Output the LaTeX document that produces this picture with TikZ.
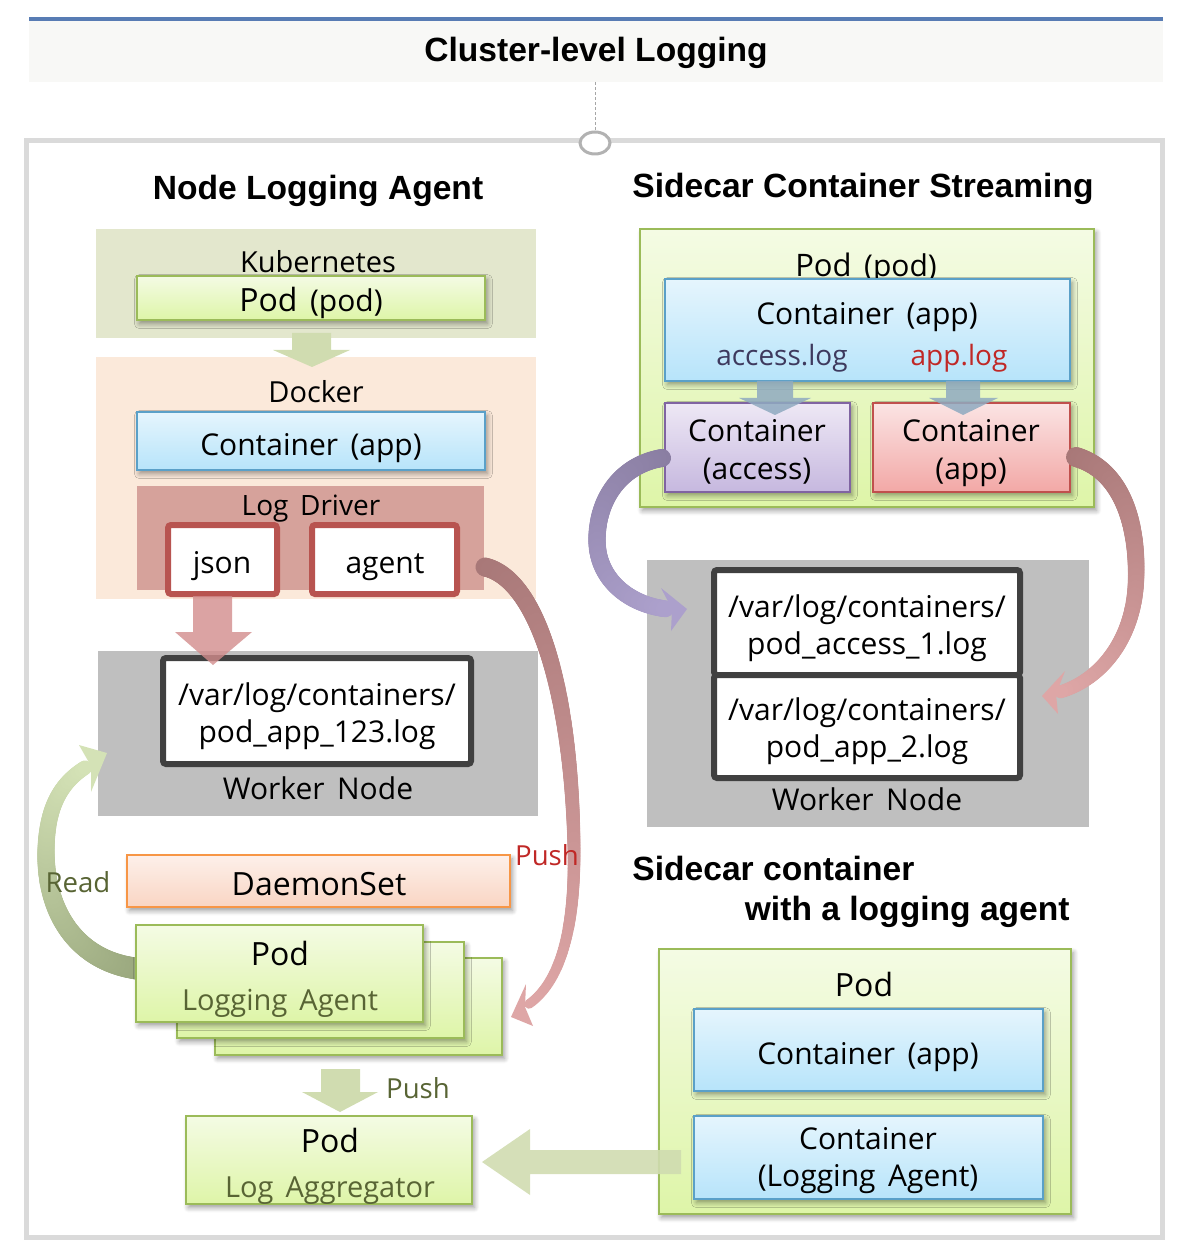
\documentclass[tikz,border=0pt]{standalone}
\usepackage{fontspec}
\setmainfont{Open Sans}[WordSpace=1.6]
\newfontfamily\hfont{Liberation Sans}
\usetikzlibrary{fit,shadows.blur,decorations.markings,shapes.geometric}
\definecolor{tblue}{RGB}{88,124,180}
\definecolor{tbg}{RGB}{248,248,246}
\definecolor{frm}{RGB}{218,218,218}
\definecolor{k8s}{RGB}{227,231,205}
\definecolor{dock}{RGB}{251,233,218}
\definecolor{ldrv}{RGB}{214,162,155}
\definecolor{ldbord}{RGB}{184,84,80}
\definecolor{wng}{RGB}{191,191,191}
\definecolor{fileb}{RGB}{64,64,64}
\definecolor{gTop}{RGB}{244,251,228}
\definecolor{gBot}{RGB}{222,245,168}
\definecolor{gBord}{RGB}{155,187,89}
\definecolor{bTop}{RGB}{229,245,253}
\definecolor{bBot}{RGB}{183,228,250}
\definecolor{bBord}{RGB}{90,160,200}
\definecolor{pTop}{RGB}{238,232,245}
\definecolor{pBot}{RGB}{198,184,223}
\definecolor{pBord}{RGB}{128,100,162}
\definecolor{rTop}{RGB}{251,228,228}
\definecolor{rBot}{RGB}{242,168,166}
\definecolor{rBord}{RGB}{192,80,77}
\definecolor{oTop}{RGB}{253,240,234}
\definecolor{oBot}{RGB}{249,213,195}
\definecolor{oBord}{RGB}{247,150,70}
\definecolor{arrG}{RGB}{208,220,176}
\definecolor{arrP}{RGB}{210,140,140}
\definecolor{arrS}{RGB}{143,170,192}
\definecolor{olive}{RGB}{88,100,52}
\definecolor{pushred}{RGB}{192,40,38}
\definecolor{acc}{RGB}{62,58,94}
\definecolor{rdA}{RGB}{168,120,120}
\definecolor{rdB}{RGB}{222,166,166}
\definecolor{gnA}{RGB}{152,166,124}
\definecolor{gnB}{RGB}{212,226,182}
\definecolor{puA}{RGB}{138,126,162}
\definecolor{puB}{RGB}{172,160,204}
\tikzset{
 bx/.style={rectangle, inner sep=0pt, outer sep=0pt},
 shad/.style={blur shadow={shadow xshift=1.2pt, shadow yshift=-1.8pt, shadow blur radius=2.5pt, shadow blur steps=6, shadow opacity=40}},
 gbox/.style={bx, draw=gBord, line width=1.3pt, top color=gTop, bottom color=gBot, shad},
 bbox/.style={bx, draw=bBord, line width=1.3pt, top color=bTop, bottom color=bBot, shad},
 pbox/.style={bx, draw=pBord, line width=1.3pt, top color=pTop, bottom color=pBot, shad},
 rbox/.style={bx, draw=rBord, line width=1.3pt, top color=rTop, bottom color=rBot, shad},
 obox/.style={bx, draw=oBord, line width=1.3pt, top color=oTop, bottom color=oBot, shad},
 band/.style={bx, fill=#1},
 drvbox/.style={bx, draw=ldbord, line width=3pt, fill=white, rounded corners=1.5pt},
 filebox/.style={bx, draw=fileb, line width=3pt, fill=white, rounded corners=1.5pt},
 txt/.style={anchor=base, inner sep=0pt, font=\fontsize{15}{18.5}\selectfont},
 stxt/.style={anchor=base, inner sep=0pt, font=\fontsize{13.8}{17}\selectfont},
 ttl/.style={anchor=base, inner sep=0pt, font=\hfont\bfseries\fontsize{16.8}{20}\selectfont},
 ribbon/.style n args={4}{decorate, decoration={markings,
   mark=between positions 0 and 1 step 0.7pt with {%
     \pgfmathsetmacro\rp{\pgfkeysvalueof{/pgf/decoration/mark info/distance from start}/\pgfdecoratedpathlength*100}%
     \pgfmathsetmacro\rr{#3+(#4-#3)*\rp/100}%
     \fill[#2!\rp!#1] (0pt,0pt) circle (\rr pt);}}},
}
\begin{document}
\begin{tikzpicture}[x=0.5pt,y=-0.5pt]
\useasboundingbox (0,0) rectangle (1184,1256);
% ---------- title
\node[band=tbg, fit={(29,20)(1163,82)}] (title) {};
\draw[tblue, line width=2pt] (29,19) -- (1163,19);
\node[ttl] (titletext) at (596,62) {Cluster-level Logging};
% ---------- frame
\node[bx, draw=frm, line width=2.5pt, fit={(26,141)(1162,1237)}] (frame) {};
\node[ellipse, draw=black!30, line width=1.5pt, fill=white, minimum width=15pt, minimum height=11pt, inner sep=0pt] (hub) at (595,143) {};
\draw[black!35, line width=0.4pt, dash pattern=on 1.5pt off 1pt] (title.south -| hub) -- (hub.north);
% ---------- section titles
\node[ttl] (tNLA) at (318,200) {Node Logging Agent};
\node[ttl] (tSCS) at (863,198) {Sidecar Container Streaming};
\node[ttl, anchor=base west] (tSCA1) at (632,880) {Sidecar container};
\node[ttl, anchor=base east] (tSCA2) at (1070,920) {with a logging agent};
% ---------- left: kubernetes
\node[band=k8s, fit={(96,229)(536,338)}] (k8sband) {};
\node[txt, font=\fontsize{14.5}{17}\selectfont] (k8stext) at (318,273) {Kubernetes};
\node[gbox, fit={(137,276)(485,320)}] (podL) {};
\node[txt] (podLtext) at (311,312) {{\fontsize{16}{19}\selectfont Pod} (pod)};
% ---------- docker
\node[band=dock, fit={(96,357)(536,599)}] (dockband) {};
\fill[arrG] (292,333) -- (331,333) -- (331,350) -- (350,350) -- (312,367) -- (273,350) -- (292,350) -- cycle;
\node[txt, font=\fontsize{14.5}{17}\selectfont] (docktext) at (316,402) {Docker};
\node[bbox, fit={(137,412)(485,470)}] (contL) {};
\node[txt] (contLtext) at (311,455) {Container (app)};
\node[band=ldrv, fit={(137,486)(484,590)}] (ldband) {};
\node[txt, font=\fontsize{14}{17}\selectfont] (ldtext) at (311,515) {Log Driver};
\node[drvbox, fit={(168,525)(277,594)}] (json) {};
\node[txt] at (222,573) {json};
\node[drvbox, fit={(312,525)(457,594)}] (agent) {};
\node[txt] at (385,573) {agent};
% ---------- worker node left
\node[band=wng, fit={(98,651)(538,816)}] (wnL) {};
\node[filebox, fit={(163,658)(471,764)}] (fileL) {};
\node[txt] (fileLtext) at (317,705) {\begin{tabular}[t]{@{}c@{}}/var/log/containers/\\pod\_app\_123.log\end{tabular}};
\node[txt] (wnLtext) at (318,799) {Worker Node};
\fill[arrP, opacity=0.8] (193,596) -- (232,596) -- (232,632) -- (252,632) -- (213,665) -- (175,632) -- (193,632) -- cycle;
% ---------- daemonset
\node[obox, fit={(127,855)(510,907)}] (ds) {};
\node[txt, font=\fontsize{16}{19}\selectfont] (dstext) at (319,895) {DaemonSet};
% read ribbon (behind pods)
\coordinate (readS) at (140,969);
\coordinate (readE) at (86,767);
\path[ribbon={gnA}{gnB}{5.5}{3.6}] (readS) .. controls (75,962) and (45,910) .. (46,850) .. controls (47,805) and (62,782) .. (readE);
\fill[gnB] (79,745) -- (107,753) -- (91,792) -- (91,766) -- cycle;
\node[stxt, text=olive] (readtext) at (78,892) {Read};
% stacked pods
\node[gbox, fit={(215,958)(502,1055)}] (pod3) {};
\node[gbox, fit={(177,942)(464,1038)}] (pod2) {};
\node[gbox, fit={(136,925)(423,1022)}] (pod1) {};
\node[txt, font=\fontsize{16}{19}\selectfont] (pod1text) at (280,965) {Pod};
\node[txt, font=\fontsize{14.5}{17}\selectfont, text=olive] (pod1sub) at (280,1010) {Logging Agent};
% push ribbon
\coordinate (pushS) at (485,567);
\coordinate (pushE) at (529,1004);
\path[ribbon={rdA}{rdB}{4.75}{2.4}] (pushS) .. controls (540,580) and (572,700) .. (574,850) .. controls (575,930) and (560,982) .. (pushE);
\fill[rdB] (526,984) -- (511,1017) -- (533,1026) -- (525,1007) -- cycle;
\node[stxt, text=pushred] (pushtext) at (547,865) {Push};
% push down to aggregator
\fill[arrG] (321,1069) -- (360,1069) -- (360,1092) -- (378,1092) -- (340,1112) -- (302,1092) -- (321,1092) -- cycle;
\node[stxt, text=olive] (push2text) at (418,1098) {Push};
\node[gbox, fit={(186,1116)(472,1204)}] (agg) {};
\node[txt, font=\fontsize{16}{19}\selectfont] (aggtext) at (330,1152) {Pod};
\node[txt, font=\fontsize{14.5}{17}\selectfont, text=olive] (aggsub) at (330,1197) {Log Aggregator};
% ---------- right: sidecar streaming pod
\node[gbox, fit={(640,229)(1094,507)}] (podR) {};
\node[txt] (podRtext) at (866,277) {{\fontsize{15.5}{19}\selectfont Pod} (pod)};
\node[bbox, fit={(665,279)(1070,381)}] (contR) {};
\node[txt] (contRtext) at (867,325) {Container (app)};
\node[txt, font=\fontsize{14}{17}\selectfont, text=acc] (acclog) at (782,366) {access.log};
\node[txt, font=\fontsize{14}{17}\selectfont, text=pushred] (applog) at (959,366) {app.log};
\node[pbox, fit={(665,403)(850,492)}] (cacc) {};
\node[txt] (cacctext) at (757,442) {\begin{tabular}[t]{@{}c@{}}Container\\(access)\end{tabular}};
\node[rbox, fit={(873,403)(1070,492)}] (capp) {};
\node[txt] (capptext) at (971,442) {\begin{tabular}[t]{@{}c@{}}Container\\(app)\end{tabular}};
\fill[arrS, opacity=0.85] (757,381) -- (793,381) -- (793,398) -- (811,398) -- (775,415) -- (739,398) -- (757,398) -- cycle;
\fill[arrS, opacity=0.85] (946,381) -- (980,381) -- (980,398) -- (998,398) -- (963,415) -- (929,398) -- (946,398) -- cycle;
% ---------- worker node right
\node[band=wng, fit={(647,560)(1089,827)}] (wnR) {};
\node[filebox, fit={(714,570)(1020,675)}] (fileR1) {};
\node[filebox, fit={(714,675)(1020,778)}] (fileR2) {};
\node[txt] (fileR1text) at (867,617) {\begin{tabular}[t]{@{}c@{}}/var/log/containers/\\pod\_access\_1.log\end{tabular}};
\node[txt] (fileR2text) at (867,720) {\begin{tabular}[t]{@{}c@{}}/var/log/containers/\\pod\_app\_2.log\end{tabular}};
\node[txt] (wnRtext) at (867,810) {Worker Node};
% ribbons right
\coordinate (puS) at (662,458);
\coordinate (puE) at (667,609);
\path[ribbon={puA}{puB}{4.5}{4.2}] (puS) .. controls (620,465) and (597,500) .. (597,540) .. controls (597,580) and (630,605) .. (puE);
\fill[puB] (661,588) -- (687,609) -- (671,631) -- (672,609) -- cycle;
\coordinate (rdS) at (1076,457);
\coordinate (rdE) at (1060,692);
\path[ribbon={rdA}{rdB}{5}{3.2}] (rdS) .. controls (1120,470) and (1138,520) .. (1136,580) .. controls (1134,640) and (1100,680) .. (rdE);
\fill[rdB] (1065,671) -- (1042,696) -- (1058,714) -- (1056,694) -- cycle;
% ---------- sidecar with logging agent
\node[gbox, fit={(659,949)(1071,1214)}] (podS) {};
\node[txt, font=\fontsize{16}{19}\selectfont] (podStext) at (864,996) {Pod};
\node[bbox, fit={(694,1009)(1043,1091)}] (contS) {};
\node[txt] (contStext) at (868,1064) {Container (app)};
\node[bbox, fit={(694,1116)(1043,1199)}] (contLA) {};
\node[txt] (contLAtext) at (868,1149) {\begin{tabular}[t]{@{}c@{}}Container\\(Logging Agent)\end{tabular}};
\fill[arrG, opacity=0.9] (681,1150) -- (530,1150) -- (530,1129) -- (482,1162) -- (530,1195) -- (530,1174) -- (681,1174) -- cycle;
\end{tikzpicture}
\end{document}
